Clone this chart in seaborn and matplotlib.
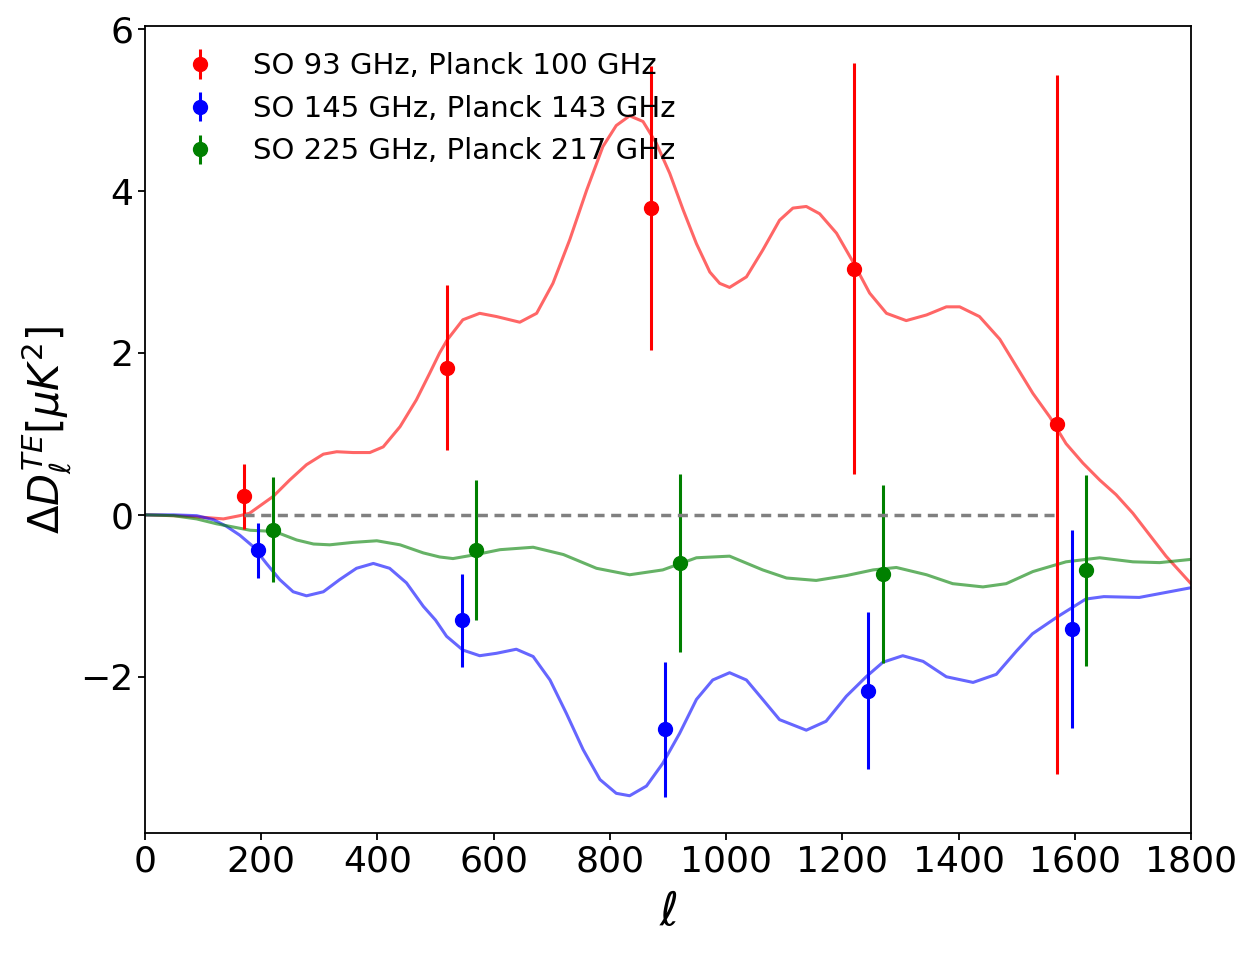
import matplotlib
matplotlib.use('Agg')

import matplotlib.pyplot as plt
import seaborn as sns

# Binned residuals (points with error bars)
ell_red = [170, 520, 870, 1220, 1570]
ell_blue = [195, 545, 895, 1245, 1595]
ell_green = [220, 570, 920, 1270, 1620]

dl_red = [0.23, 1.82, 3.79, 3.04, 1.12]
err_red = [0.40, 1.02, 1.75, 2.54, 4.32]
dl_blue = [-0.44, -1.30, -2.65, -2.17, -1.41]
err_blue = [0.34, 0.575, 0.83, 0.97, 1.22]
dl_green = [-0.185, -0.434, -0.60, -0.725, -0.685]
err_green = [0.65, 0.866, 1.10, 1.10, 1.18]

labels = ["SO 93 GHz, Planck 100 GHz",
          "SO 145 GHz, Planck 143 GHz",
          "SO 225 GHz, Planck 217 GHz"]

# Theory curves
curve_red_ell = [0, 50, 100, 135, 163, 180, 221, 249, 278, 307, 330, 358, 387,
                 410, 439, 467, 490, 507, 520, 547, 576, 605, 645, 674, 702,
                 731, 760, 788, 811, 834, 857, 880, 903, 926, 949, 972, 989,
                 1006, 1035, 1063, 1092, 1115, 1138, 1161, 1190, 1218, 1247,
                 1276, 1310, 1345, 1379, 1402, 1436, 1471, 1499, 1528, 1557,
                 1585, 1614, 1643, 1671, 1700, 1729, 1757, 1800]
curve_red = [0.0, -0.01, -0.03, -0.05, -0.01, 0.02, 0.23, 0.43, 0.62, 0.75,
             0.78, 0.77, 0.77, 0.84, 1.09, 1.42, 1.75, 2.00, 2.16, 2.41, 2.49,
             2.45, 2.38, 2.49, 2.86, 3.40, 4.01, 4.55, 4.81, 4.93, 4.86, 4.59,
             4.22, 3.77, 3.35, 3.00, 2.86, 2.81, 2.94, 3.27, 3.64, 3.79, 3.81,
             3.72, 3.48, 3.13, 2.74, 2.49, 2.40, 2.47, 2.57, 2.57, 2.45, 2.17,
             1.84, 1.50, 1.21, 0.88, 0.64, 0.43, 0.25, 0.02, -0.25, -0.51,
             -0.85]

curve_blue_ell = [0, 49, 89, 118, 140, 163, 186, 209, 232, 255, 278, 307, 335,
                  364, 393, 421, 450, 479, 500, 519, 547, 576, 605, 639, 668,
                  697, 725, 754, 783, 811, 834, 863, 891, 920, 949, 977, 1006,
                  1035, 1063, 1092, 1138, 1172, 1207, 1241, 1270, 1304, 1339,
                  1379, 1425, 1465, 1500, 1527, 1570, 1619, 1650, 1711, 1800]
curve_blue = [0.0, 0.0, -0.01, -0.06, -0.14, -0.25, -0.39, -0.60, -0.80,
              -0.95, -1.00, -0.95, -0.80, -0.66, -0.60, -0.66, -0.84, -1.13,
              -1.30, -1.50, -1.67, -1.74, -1.71, -1.66, -1.75, -2.04, -2.45,
              -2.90, -3.27, -3.44, -3.47, -3.35, -3.07, -2.70, -2.28, -2.04,
              -1.95, -2.04, -2.28, -2.53, -2.66, -2.55, -2.24, -2.00, -1.82,
              -1.74, -1.81, -2.00, -2.07, -1.97, -1.68, -1.47, -1.26, -1.04,
              -1.01, -1.02, -0.90]

curve_green_ell = [0, 49, 89, 123, 152, 181, 209, 232, 261, 290, 318, 358, 399,
                   439, 479, 507, 530, 570, 611, 668, 720, 777, 834, 891, 949,
                   1006, 1063, 1104, 1155, 1207, 1253, 1293, 1345, 1390, 1442,
                   1482, 1528, 1585, 1643, 1700, 1746, 1800]
curve_green = [0.0, -0.01, -0.05, -0.11, -0.15, -0.19, -0.20, -0.23, -0.31,
               -0.36, -0.37, -0.34, -0.32, -0.37, -0.47, -0.52, -0.54, -0.49,
               -0.43, -0.40, -0.49, -0.66, -0.74, -0.68, -0.53, -0.51, -0.68,
               -0.78, -0.81, -0.75, -0.68, -0.65, -0.74, -0.85, -0.89, -0.85,
               -0.70, -0.58, -0.53, -0.58, -0.59, -0.55]

fig = plt.figure(figsize=(12.55, 9.58), dpi=100)
ax = fig.add_axes([0.1155, 0.1305, 0.8335, 0.8424])

# smooth curves
sns.lineplot(x=curve_red_ell, y=curve_red, color="red", alpha=0.6, lw=2.2, ax=ax, sort=False)
sns.lineplot(x=curve_blue_ell, y=curve_blue, color="blue", alpha=0.6, lw=2.2, ax=ax, sort=False)
sns.lineplot(x=curve_green_ell, y=curve_green, color="green", alpha=0.6, lw=2.2, ax=ax, sort=False)

# data points
ax.errorbar(ell_red, dl_red, yerr=err_red, fmt="o", color="red", ms=10, elinewidth=2.2, label=labels[0])
ax.errorbar(ell_blue, dl_blue, yerr=err_blue, fmt="o", color="blue", ms=10, elinewidth=2.2, label=labels[1])
ax.errorbar(ell_green, dl_green, yerr=err_green, fmt="o", color="green", ms=10, elinewidth=2.2, label=labels[2])

# zero line
ax.plot([ell_red[0], ell_red[-1]], [0, 0], color="grey", lw=2.5, dashes=(2.9, 1.9))

ax.set_xlim(0, 1800)
ax.set_ylim(-3.93, 6.04)
ax.set_xticks(range(0, 1801, 200))
ax.set_yticks([-2, 0, 2, 4, 6])
ax.tick_params(labelsize=26, width=1.3, length=5)
for s in ax.spines.values():
    s.set_linewidth(1.3)

ax.set_xlabel(r"$\ell$", fontsize=33, labelpad=8)
ax.set_ylabel(r"$\Delta D_\ell^{TE} [\mu K^2]$", fontsize=30)

ax.legend(loc="upper left", frameon=False, fontsize=21, labelspacing=0.5)

plt.savefig("out.png", dpi=100)
